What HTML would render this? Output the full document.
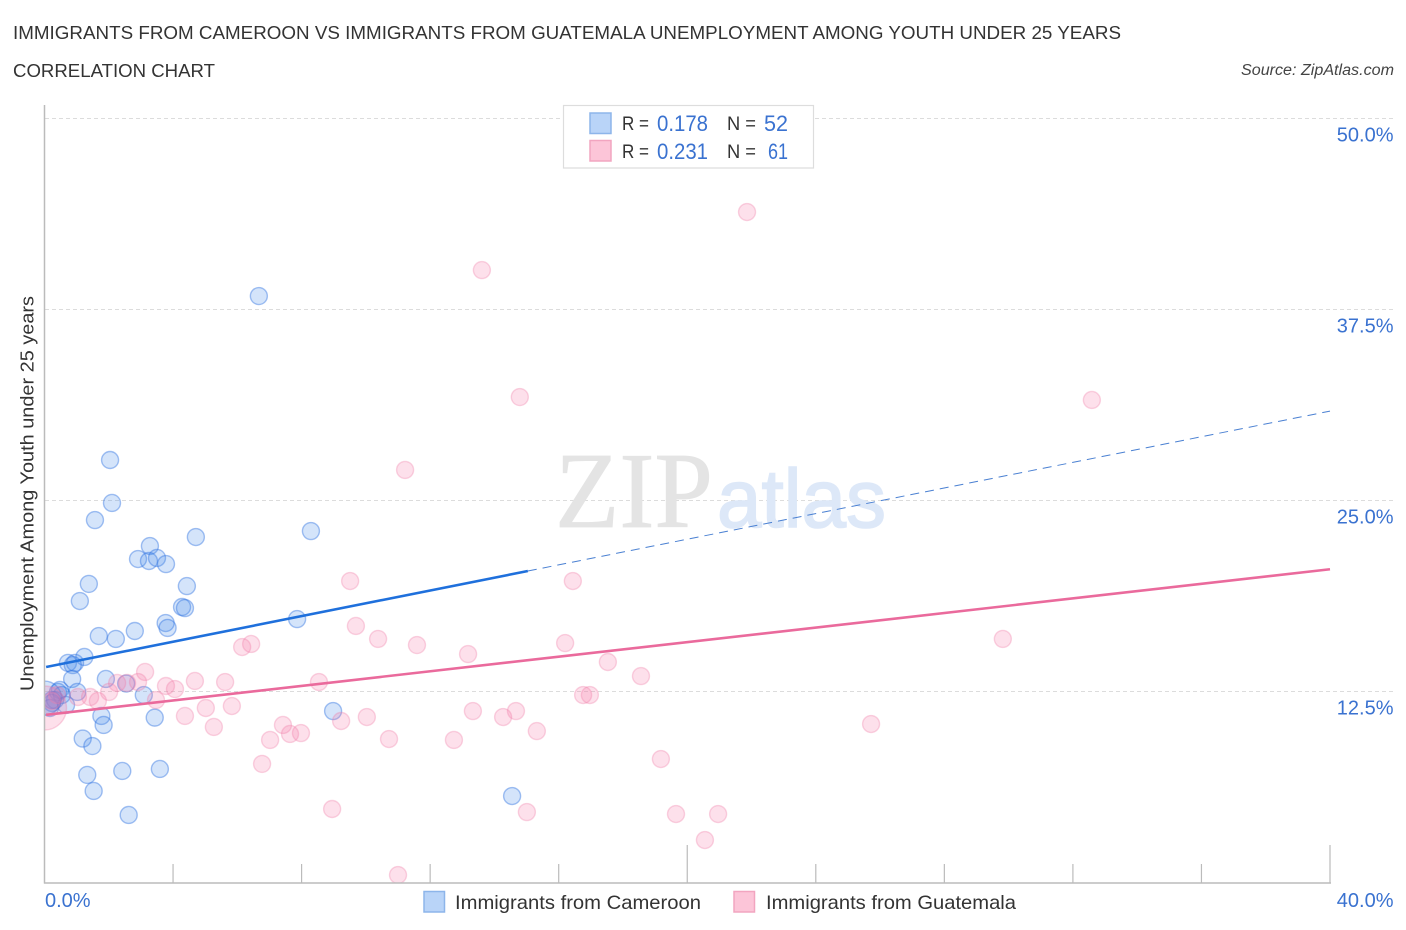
<!DOCTYPE html>
<html lang="en">
<head>
<meta charset="utf-8">
<title>Immigrants from Cameroon vs Immigrants from Guatemala Unemployment Among Youth Under 25 Years Correlation Chart</title>
<style>
html,body{margin:0;padding:0;background:#fff;width:1406px;height:930px;overflow:hidden}
svg{display:block;font-family:"Liberation Sans",sans-serif}
</style>
</head>
<body>
<svg id="chart" xmlns="http://www.w3.org/2000/svg" width="1406" height="930" viewBox="0 0 1406 930">
  <defs>
    <clipPath id="plot-clip"><rect x="44.5" y="100" width="1340" height="783"/></clipPath>
  </defs>
  <rect x="0" y="0" width="1406" height="930" fill="#ffffff"/>
  <text x="13" y="39" font-size="18.5" fill="#333333" textLength="1108" lengthAdjust="spacingAndGlyphs">IMMIGRANTS FROM CAMEROON VS IMMIGRANTS FROM GUATEMALA UNEMPLOYMENT AMONG YOUTH UNDER 25 YEARS</text>
  <text x="13" y="77" font-size="18.5" fill="#333333" textLength="202" lengthAdjust="spacingAndGlyphs">CORRELATION CHART</text>
  <text x="1241" y="75" font-size="15.5" font-style="italic" fill="#444444" textLength="153" lengthAdjust="spacingAndGlyphs">Source: ZipAtlas.com</text>
  <g id="grid"></g>
  <text x="555" y="527" font-family="'Liberation Serif',serif" font-size="108" fill="#e4e4e4" stroke="#e4e4e4" stroke-width="0.8" textLength="158" lengthAdjust="spacingAndGlyphs">ZIP</text>
  <text x="717" y="527" font-size="83" fill="#dde8f8" stroke="#dde8f8" stroke-width="1.6" textLength="169" lengthAdjust="spacingAndGlyphs">atlas</text>
  <g id="points" clip-path="url(#plot-clip)"></g>
  <g id="trends"></g>
  <rect x="0" y="100" width="44.5" height="790" fill="#ffffff"/>
  <g id="axes"></g>
  <text transform="translate(33.5,691) rotate(-90)" x="0" y="0" font-size="18.5" fill="#333333" textLength="395" lengthAdjust="spacingAndGlyphs">Unemployment Among Youth under 25 years</text>

  <g>
    <rect x="563.5" y="105.5" width="250" height="62.5" fill="#ffffff" stroke="#dddddd" stroke-width="1.2"/>
    <rect x="590" y="113" width="21" height="20.5" fill="#b9d4f8" stroke="#8db5ea" stroke-width="1.5"/>
    <rect x="590" y="140.5" width="21" height="20.5" fill="#fcc5d8" stroke="#f2a5c0" stroke-width="1.5"/>
    <text x="622" y="130" font-size="19.5" fill="#333333" textLength="27" lengthAdjust="spacingAndGlyphs">R =</text>
    <text x="657" y="131" font-size="22" fill="#3a72d0" textLength="51" lengthAdjust="spacingAndGlyphs">0.178</text>
    <text x="727" y="130" font-size="19.5" fill="#333333" textLength="29" lengthAdjust="spacingAndGlyphs">N =</text>
    <text x="764" y="131" font-size="22" fill="#3a72d0" textLength="24" lengthAdjust="spacingAndGlyphs">52</text>
    <text x="622" y="158" font-size="19.5" fill="#333333" textLength="27" lengthAdjust="spacingAndGlyphs">R =</text>
    <text x="657" y="159" font-size="22" fill="#3a72d0" textLength="51" lengthAdjust="spacingAndGlyphs">0.231</text>
    <text x="727" y="158" font-size="19.5" fill="#333333" textLength="29" lengthAdjust="spacingAndGlyphs">N =</text>
    <text x="768" y="159" font-size="22" fill="#3a72d0" textLength="20" lengthAdjust="spacingAndGlyphs">61</text>
  </g>

  <g>
    <rect x="424" y="891.5" width="20.5" height="20.5" fill="#b9d4f8" stroke="#8db5ea" stroke-width="1.5"/>
    <text x="455" y="909" font-size="19.5" fill="#333333" textLength="246" lengthAdjust="spacingAndGlyphs">Immigrants from Cameroon</text>
    <rect x="734" y="891.5" width="20.5" height="20.5" fill="#fcc5d8" stroke="#f2a5c0" stroke-width="1.5"/>
    <text x="766" y="909" font-size="19.5" fill="#333333" textLength="250" lengthAdjust="spacingAndGlyphs">Immigrants from Guatemala</text>
  </g>
</svg>
<script>
// Values in percent
const cameroonX = [6.67,2.04,2.10,1.57,8.29,4.71,3.28,2.91,3.25,3.50,3.78,1.38,4.43,1.10,4.28,4.37,3.77,3.83,7.86,2.81,1.69,2.22,1.24,0.73,0.95,0.88,0.86,1.91,2.54,3.09,1.02,0.48,0.42,0.54,0.33,0.23,0.67,0.17,1.77,3.43,1.84,8.98,1.19,1.49,1.33,2.42,3.59,1.53,2.62,14.55,0.23,0.00];
const cameroonY = [38.38,27.65,24.84,23.72,23.00,22.61,22.02,21.17,21.04,21.24,20.84,19.54,19.40,18.42,18.03,17.96,16.98,16.66,17.24,16.46,16.13,15.94,14.76,14.37,14.37,14.23,13.32,13.32,13.02,12.27,12.47,12.60,12.47,12.27,11.94,11.75,11.62,11.42,10.90,10.79,10.31,11.22,9.42,8.93,7.04,7.30,7.43,5.99,4.42,5.66,11.94,12.07];
const cameroonWeights = {51: 4};
const guatemalaX = [21.86,13.61,14.79,32.59,11.22,9.51,16.44,9.69,29.82,10.38,11.59,6.43,6.15,16.20,13.18,17.53,3.13,18.56,8.54,4.68,5.62,2.26,2.57,2.91,3.78,4.06,2.01,16.76,16.97,1.42,1.04,1.66,3.47,5.83,5.02,13.33,14.67,4.37,14.27,10.03,9.23,7.42,25.72,5.27,15.32,7.98,7.64,7.02,10.72,12.74,19.18,6.77,8.95,15.01,19.65,20.96,20.55,11.00,0.39,0.23,0.00];
const guatemalaY = [43.88,40.08,31.77,31.58,27.00,19.73,19.73,16.79,15.94,15.94,15.54,15.61,15.41,15.67,14.95,14.43,13.78,13.51,13.12,13.19,13.12,13.06,13.06,13.12,12.86,12.66,12.47,12.27,12.27,12.14,12.14,11.88,11.94,11.55,11.42,11.22,11.22,10.90,10.83,10.83,10.57,10.31,10.37,10.18,9.91,9.78,9.72,9.33,9.39,9.33,8.08,7.76,4.81,4.61,4.48,4.48,2.78,0.49,12.27,11.88,11.42];
const guatemalaWeights = {60: 6.7};
// Trend lines: value at x = 0 and value at x = 40; the Cameroon fit is solid up to its observed range
const cameroonTrend = [14.08, 30.85];
const cameroonSolidEnd = 15.04;
const guatemalaTrend = [10.96, 20.50];
// Axis ticks
const xTickValues = [4,8,12,16,20,24,28,32,36,40];
const xMajorTicks = [20,40];
const xEdgeLabels = [0,40];
const yTickValues = [12.5,25,37.5,50];

const svg = document.getElementById('chart');
const NS = 'http://www.w3.org/2000/svg';
const xScale = v => 44.5 + v * (1285.5 / 40);
const yScale = v => 882.5 - v * (764 / 50);
const make = (tag, attrs, parent) => {
  const el = document.createElementNS(NS, tag);
  for (const k in attrs) el.setAttribute(k, attrs[k]);
  parent.appendChild(el);
  return el;
};

const grid = document.getElementById('grid');
yTickValues.forEach(v => {
  const line = make('line', {x1: 45, x2: 1393, y1: yScale(v), y2: yScale(v), stroke: '#dcdcdc', 'stroke-width': 1, 'stroke-dasharray': '4 3'}, grid);
  
  
});

const points = document.getElementById('points');
function drawSeries(xs, ys, weights, fill, stroke, name) {
  xs.forEach((x, i) => {
    const r = 8.5 * Math.sqrt(weights[i] || 1);
    const c = make('circle', {cx: xScale(x), cy: yScale(ys[i]), r: r, fill: fill, stroke: stroke, 'stroke-width': 1.4}, points);
    
    
  });
}
drawSeries(cameroonX, cameroonY, cameroonWeights, 'rgba(70,140,235,0.23)', 'rgba(40,110,225,0.42)', 'point-cameroon');
drawSeries(guatemalaX, guatemalaY, guatemalaWeights, 'rgba(248,120,170,0.23)', 'rgba(240,120,165,0.32)', 'point-guatemala');

const trends = document.getElementById('trends');
const trendAt = (t, x) => t[0] + (t[1] - t[0]) * x / 40;
const cameroonStart = 0.05;
const solid = make('line', {x1: xScale(cameroonStart), y1: yScale(trendAt(cameroonTrend, cameroonStart)), x2: xScale(cameroonSolidEnd), y2: yScale(trendAt(cameroonTrend, cameroonSolidEnd)), stroke: '#1f70dc', 'stroke-width': 2.6}, trends);


const dashed = make('line', {x1: xScale(cameroonSolidEnd), y1: yScale(trendAt(cameroonTrend, cameroonSolidEnd)), x2: xScale(40), y2: yScale(trendAt(cameroonTrend, 40)), stroke: '#4a80d2', 'stroke-width': 1, 'stroke-dasharray': '9 6'}, trends);


const pinkLine = make('line', {x1: xScale(cameroonStart), y1: yScale(trendAt(guatemalaTrend, cameroonStart)), x2: xScale(40), y2: yScale(trendAt(guatemalaTrend, 40)), stroke: '#ea6a9c', 'stroke-width': 2.6}, trends);



const axes = document.getElementById('axes');
const yAxis = make('line', {x1: 44.5, x2: 44.5, y1: 105, y2: 883.5, stroke: '#bbbbbb', 'stroke-width': 1.5}, axes);


const xAxis = make('line', {x1: 44, x2: 1331, y1: 883, y2: 883, stroke: '#bbbbbb', 'stroke-width': 1.5}, axes);


xTickValues.forEach(v => {
  const major = xMajorTicks.includes(v);
  const t = make('line', {x1: xScale(v), x2: xScale(v), y1: major ? 845 : 864, y2: 883, stroke: '#bbbbbb', 'stroke-width': 1.2}, axes);
  
  
});
yTickValues.forEach(v => {
  const t = make('text', {x: 1393.5, y: yScale(v) + 23, 'text-anchor': 'end', 'font-size': 20, fill: '#3a72d0'}, axes);
  t.textContent = v.toFixed(1) + '%';
  
  
});
xEdgeLabels.forEach((v, i) => {
  const t = make('text', {x: i === 0 ? 45 : 1393.5, y: 907, 'text-anchor': i === 0 ? 'start' : 'end', 'font-size': 20, fill: '#3a72d0'}, axes);
  t.textContent = v.toFixed(1) + '%';
  
  
});
</script>
</body>
</html>
